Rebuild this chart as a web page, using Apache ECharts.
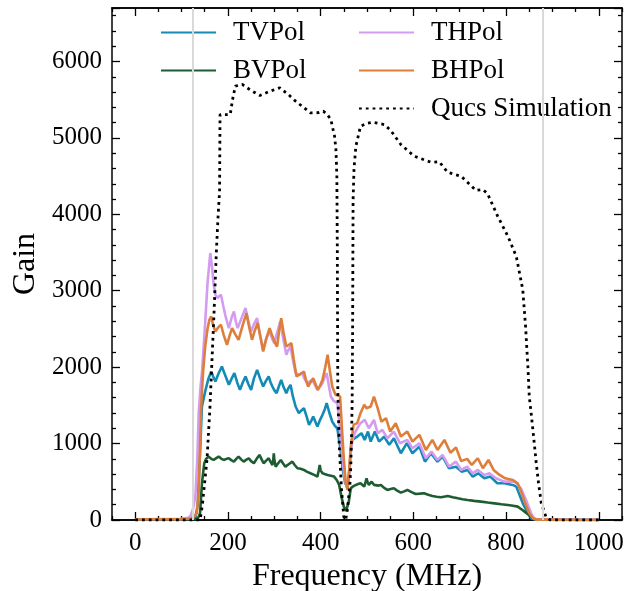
<!DOCTYPE html>
<html>
<head>
<meta charset="utf-8">
<script src="https://cdn.jsdelivr.net/npm/echarts@6/dist/echarts.min.js"></script>
<style>
  html, body { margin: 0; padding: 0; background: #fff; }
  #chartBox { width: 628px; height: 591px; }
</style>
</head>
<body>
<div id="chartBox"></div>
<script>
// frequency (MHz), gain
const tvpol = [[0,8],[100,10],[120,15],[130,40],[135,200],[140,900],[144,1485],[151,1681],[158,1850],[164,1943],[168,1880],[173,1812],[180,1920],[187,2009],[195,1880],[202,1769],[208,1850],[214,1922],[220,1800],[226,1703],[232,1800],[238,1878],[244,1780],[250,1703],[256,1850],[263,1965],[270,1840],[276,1747],[282,1820],[288,1878],[292,1800],[296,1747],[300,1700],[305,1660],[310,1750],[315,1834],[320,1740],[326,1660],[330,1720],[335,1769],[340,1620],[346,1485],[353,1398],[358,1430],[364,1463],[370,1350],[375,1245],[380,1300],[384,1354],[389,1280],[393,1223],[398,1300],[404,1376],[409,1450],[413,1530],[419,1400],[425,1288],[431,1230],[436,1201],[443,917],[448,650],[453,480],[457,450],[461,600],[465,900],[468,1048],[479,1092],[488,1136],[495,1048],[502,1157],[508,1026],[517,1157],[526,1026],[537,1092],[548,983],[558,1070],[573,873],[586,1005],[598,873],[613,960],[625,764],[638,873],[652,764],[663,829],[677,677],[692,698],[704,633],[717,655],[728,568],[740,611],[753,546],[766,568],[781,481],[796,481],[814,459],[822,437],[836,218],[847,88],[854,22],[862,5],[1000,0]];

const bvpol = [[0,5],[100,5],[130,10],[137,40],[140,92],[144,481],[149,743],[153,800],[158,830],[164,800],[169,786],[175,810],[180,830],[186,800],[191,786],[197,800],[202,808],[208,780],[213,764],[218,800],[223,830],[229,790],[234,764],[240,790],[245,808],[250,770],[256,743],[262,800],[268,852],[273,790],[277,743],[283,780],[288,808],[292,760],[296,720],[298,800],[299,873],[300,800],[303,698],[308,740],[314,786],[319,740],[324,698],[331,730],[339,764],[344,720],[350,677],[357,670],[364,655],[371,630],[378,611],[386,590],[393,568],[396,650],[398,720],[400,650],[404,611],[410,600],[415,590],[422,580],[429,568],[435,520],[440,459],[445,300],[450,175],[455,120],[458,109],[461,250],[465,415],[470,440],[476,459],[481,470],[486,481],[490,460],[494,437],[497,500],[499,546],[501,500],[504,459],[510,502],[515,460],[519,437],[525,450],[530,459],[537,420],[544,393],[551,405],[558,415],[565,385],[573,358],[580,375],[587,393],[596,365],[605,341],[614,345],[623,350],[632,330],[641,314],[650,305],[659,297],[666,305],[674,314],[685,298],[696,284],[706,272],[717,262],[731,250],[746,240],[760,229],[775,218],[790,207],[804,197],[815,186],[825,175],[833,140],[840,109],[847,75],[854,44],[860,15],[870,3],[1000,0]];

const thpol = [[0,10],[100,15],[115,30],[120,60],[125,150],[130,320],[134,800],[137,1400],[141,1750],[144,1930],[151,2580],[156,3100],[162,3494],[166,3300],[169,3100],[173,2950],[177,2904],[181,2930],[185,2948],[190,2800],[195,2664],[202,2511],[208,2650],[213,2729],[217,2600],[221,2511],[230,2650],[238,2773],[244,2600],[250,2467],[256,2560],[263,2642],[270,2400],[276,2227],[283,2380],[290,2467],[295,2380],[300,2315],[306,2450],[313,2598],[320,2350],[326,2162],[330,2220],[335,2271],[340,2100],[346,1922],[353,1900],[360,1922],[365,1850],[371,1791],[376,1810],[382,1834],[388,1760],[393,1703],[398,1740],[404,1791],[409,1870],[413,1922],[418,1750],[422,1615],[428,1560],[436,1529],[440,1300],[444,1000],[448,750],[452,550],[456,430],[460,480],[463,700],[466,950],[469,1050],[472,1114],[479,1200],[486,1267],[495,1310],[504,1201],[510,1260],[515,1310],[523,1136],[533,1179],[544,1070],[558,1157],[571,1005],[587,1048],[598,939],[613,1005],[627,808],[639,895],[652,786],[663,852],[677,698],[692,764],[703,655],[716,698],[728,611],[739,655],[753,590],[764,611],[778,546],[796,502],[818,502],[832,415],[843,262],[854,88],[860,20],[870,5],[1000,0]];

const bhpol = [[0,10],[100,12],[120,20],[128,50],[133,92],[137,400],[140,960],[142,1441],[146,1900],[151,2271],[156,2500],[160,2620],[164,2664],[168,2550],[173,2467],[179,2520],[185,2555],[191,2420],[198,2293],[204,2420],[209,2511],[216,2430],[223,2358],[231,2530],[240,2707],[246,2520],[252,2358],[258,2480],[264,2577],[270,2400],[276,2205],[283,2380],[290,2511],[295,2420],[299,2358],[303,2300],[306,2271],[310,2450],[315,2642],[320,2450],[326,2271],[331,2290],[337,2315],[342,2100],[348,1878],[356,1910],[364,1943],[368,1840],[373,1747],[378,1800],[384,1856],[389,1780],[394,1703],[399,1760],[404,1834],[410,2000],[415,2162],[420,1950],[425,1747],[432,1638],[437,1630],[442,1615],[446,1200],[450,800],[454,500],[458,393],[461,600],[465,960],[471,1245],[479,1267],[486,1398],[494,1507],[499,1463],[508,1485],[515,1615],[523,1463],[531,1288],[541,1332],[550,1157],[562,1267],[573,1092],[587,1157],[598,1026],[613,1114],[627,917],[641,1048],[652,917],[667,1048],[680,880],[692,950],[703,770],[716,800],[726,720],[739,808],[750,677],[762,786],[773,655],[786,590],[798,546],[814,524],[825,481],[832,380],[840,240],[850,88],[858,22],[865,5],[1000,0]];

const qucs = [[0,0],[100,0],[140,0],[145,200],[150,500],[155,800],[161,1441],[165,2000],[170,2700],[175,3500],[179,4000],[182,4300],[183,5306],[195,5306],[205,5306],[210,5500],[216,5677],[231,5700],[250,5620],[269,5555],[290,5610],[312,5656],[330,5570],[346,5481],[378,5328],[395,5330],[406,5350],[415,5300],[422,5240],[430,5022],[433,4850],[435,4500],[436,3500],[437,1700],[440,1000],[445,400],[450,40],[454,0],[458,150],[463,450],[465,700],[467,1200],[468,1572],[469,2500],[470,4192],[472,4600],[476,4891],[486,5153],[500,5190],[512,5205],[537,5175],[551,5100],[573,4913],[602,4760],[638,4682],[656,4687],[674,4550],[703,4498],[735,4314],[750,4323],[760,4271],[782,3974],[804,3712],[822,3449],[836,3013],[842,2533],[847,2009],[850,1615],[854,1400],[860,1050],[865,745],[870,480],[876,220],[886,40],[895,0],[1000,0]];

const bandEdges = [125, 880];
const xMajor = [0, 200, 400, 600, 800, 1000];
const xMinor = [-50, 50, 100, 150, 250, 300, 350, 450, 500, 550, 650, 700, 750, 850, 900, 950, 1050];

const font = "Liberation Serif";
const black = "#000";

const chartDom = document.getElementById("chartBox");
const myChart = echarts.init(chartDom);

function plain(v) {
  return String(v);
}

function xAx(pos, ticks, len, labels) {
  return {
    type: "value",
    position: pos,
    min: -50,
    max: 1050,
    axisLine: { show: true, onZero: false, lineStyle: { color: black, width: 1.5 } },
    axisTick: { show: true, inside: true, length: len, customValues: ticks, lineStyle: { color: black, width: 1.3 } },
    axisLabel: labels
      ? { show: true, customValues: xMajor, formatter: plain, margin: 11, fontSize: 25, fontFamily: font, color: black }
      : { show: false },
    splitLine: { show: false },
  };
}

function yAx(pos, labels) {
  return {
    type: "value",
    position: pos,
    min: 0,
    max: 6700,
    interval: 1000,
    axisLine: { show: true, onZero: false, lineStyle: { color: black, width: 1.5 } },
    axisTick: { show: true, inside: true, length: 8, lineStyle: { color: black, width: 1.3 } },
    minorTick: { show: true, splitNumber: 5, length: 4, lineStyle: { color: black, width: 1.3 } },
    axisLabel: labels
      ? { show: true, showMaxLabel: false, formatter: plain, margin: 10, fontSize: 25, fontFamily: font, color: black }
      : { show: false },
    splitLine: { show: false },
    minorSplitLine: { show: false },
  };
}

const xMain = xAx("bottom", xMajor, 8, true);
xMain.name = "Frequency (MHz)";
xMain.nameLocation = "middle";
xMain.nameGap = 41;
xMain.nameTextStyle = { fontSize: 32, fontFamily: font, color: black };

const yMain = yAx("left", true);
yMain.name = "Gain";
yMain.nameLocation = "middle";
yMain.nameGap = 66;
yMain.nameTextStyle = { fontSize: 32, fontFamily: font, color: black };

function lineSeries(name, data, color, extra) {
  return Object.assign({
    name: name,
    type: "line",
    data: data,
    symbol: "none",
    showSymbol: false,
    lineStyle: { color: color, width: 2.6 },
    itemStyle: { color: color },
  }, extra || {});
}

const legendText = { fontSize: 27, fontFamily: font, color: black, lineHeight: 24, padding: [0, 0, 0, 12] };

function legendCol(names, left) {
  return {
    data: names,
    orient: "vertical",
    left: left,
    top: 19,
    padding: 0,
    itemWidth: 55,
    itemHeight: 24,
    itemGap: 11,
    itemStyle: { opacity: 0 },
    textStyle: legendText,
  };
}

const option = {
  animation: false,
  backgroundColor: "#fff",
  grid: { left: 112, top: 8, width: 510, height: 512, containLabel: false, outerBoundsMode: "none" },
  xAxis: [
    xMain,
    xAx("bottom", xMinor, 4, false),
    xAx("top", xMajor, 8, false),
    xAx("top", xMinor, 4, false),
  ],
  yAxis: [yMain, yAx("right", false)],
  legend: [
    legendCol(["TVPol", "BVPol"], 160),
    legendCol(["THPol", "BHPol", "Qucs Simulation"], 358),
  ],
  series: [
    {
      type: "line",
      data: [],
      silent: true,
      markLine: {
        silent: true,
        symbol: "none",
        label: { show: false },
        lineStyle: { color: "#d9d9d9", width: 2, type: "solid" },
        data: bandEdges.map(function (v) { return { xAxis: v }; }),
      },
      z: 1,
    },
    lineSeries("TVPol", tvpol, "#138bb6"),
    lineSeries("BVPol", bvpol, "#1e5d31"),
    lineSeries("THPol", thpol, "#d39cf1"),
    lineSeries("BHPol", bhpol, "#dd7f3b"),
    lineSeries("Qucs Simulation", qucs, "#000", {
      lineStyle: { color: "#000", width: 2.8, type: [2.8, 4] },
    }),
  ],
};

option && myChart.setOption(option);
</script>
</body>
</html>
